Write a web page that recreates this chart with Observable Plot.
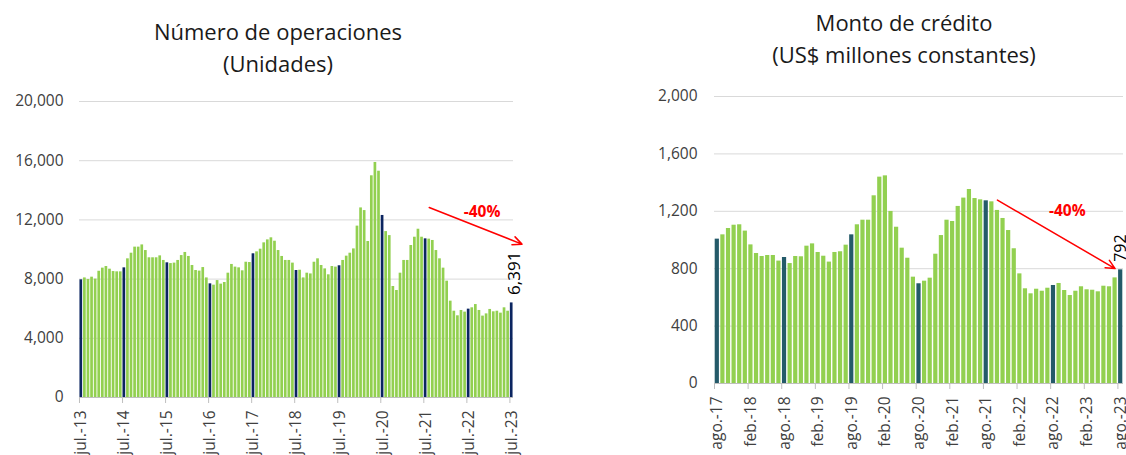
<!DOCTYPE html>
<html><head><meta charset="utf-8">
<script src="https://cdn.jsdelivr.net/npm/d3@7"></script>
<script src="https://cdn.jsdelivr.net/npm/@observablehq/plot@0.6"></script>
<style>
html,body{margin:0;padding:0;background:#fff;}
#wrap{position:relative;width:1126px;height:455px;overflow:hidden;font-family:"Open Sans",sans-serif;background:#fff;}
.title{position:absolute;text-align:center;font-size:22px;line-height:32px;color:#1a1a1a;white-space:nowrap;}
#lt{left:78px;width:400px;top:15px;}
#rt{left:704px;width:400px;top:6px;}
#lc{position:absolute;left:0;top:85px;}
#rc{position:absolute;left:640px;top:80px;}
</style></head><body>
<div id="wrap">
<div class="title" id="lt">Número de operaciones<br>(Unidades)</div>
<div class="title" id="rt">Monto de crédito<br>(US$ millones constantes)</div>
<div id="lc"></div><div id="rc"></div>
</div>
<script>
// ---- Data: Número de operaciones (monthly, jul-13 .. jul-23) ----
const opsValues = [
  7950, 8080, 7970, 8130, 8000, 8530, 8740, 8850, 8670, 8510, 8490, 8490,
  8760, 9370, 9750, 10160, 10160, 10310, 9930, 9440, 9440, 9440, 9570, 9260,
  9100, 9050, 9080, 9260, 9590, 9800, 9530, 8920, 8580, 8540, 8780, 8080,
  7680, 7590, 7900, 7660, 7770, 8400, 8990, 8810, 8760, 8560, 9140, 9120,
  9710, 9840, 10020, 10450, 10650, 10790, 10560, 9930, 9530, 9260, 9260, 9080,
  8580, 8600, 8080, 8400, 8350, 9140, 9370, 8920, 8690, 8290, 8850, 8810,
  8900, 9260, 9550, 9750, 10040, 11580, 12810, 12630, 10540, 14980, 15880, 15290,
  12300, 11210, 10940, 7500, 7230, 8400, 9260, 9260, 10270, 10830, 11370, 10830,
  10720, 10700, 10610, 9930, 9370, 8740, 7860, 6510, 5830, 5520, 5880, 5770,
  5970, 6060, 6280, 5880, 5500, 5650, 5950, 5790, 5830, 5700, 6060, 5830,
  6391
];
const opsTickLabels = ["jul.-13","jul.-14","jul.-15","jul.-16","jul.-17","jul.-18","jul.-19","jul.-20","jul.-21","jul.-22","jul.-23"];
const opsYTicks = [0, 4000, 8000, 12000, 16000, 20000];

// ---- Data: Monto de crédito (monthly, ago-17 .. ago-23) ----
const montoValues = [
  1006, 1036, 1080, 1103, 1106, 1062, 966, 906, 885, 892, 892, 853,
  878, 836, 885, 883, 957, 973, 913, 887, 846, 913, 918, 964,
  1036, 1106, 1138, 1138, 1308, 1438, 1447, 1199, 1089, 943, 873, 741,
  695, 713, 734, 901, 1031, 1138, 1129, 1234, 1292, 1352, 1289, 1280,
  1273, 1266, 1206, 1150, 1066, 939, 764, 660, 625, 657, 643, 664,
  683, 697, 648, 613, 643, 674, 653, 650, 639, 678, 674, 736,
  792
];
const montoTickLabels = ["ago.-17","feb.-18","ago.-18","feb.-19","ago.-19","feb.-20","ago.-20","feb.-21","ago.-21","feb.-22","ago.-22","feb.-23","ago.-23"];
const montoYTicks = [0, 400, 800, 1200, 1600, 2000];

// ---- Annotations (data space) ----
const opsArrow = [{x1: "2021-08", y1: 12840, x2: "2023-07", y2: 10636}];
const opsPct = [{x: "2022-11", y: 12500, text: "-40%"}];
const opsLast = [{x: "2023-07", y: 6391, text: "6,391"}];
const montoArrow = [{x1: "2021-10", y1: 1278, x2: "2023-07", y2: 801}];
const montoPct = [{x: "2022-11", y: 1199, text: "-40%"}];
const montoLast = [{x: "2023-08", y: 792, text: "792"}];

const fmtKey = d3.utcFormat("%Y-%m");
const opsMonths = d3.utcMonth.range(new Date(Date.UTC(2013, 6, 1)), new Date(Date.UTC(2023, 7, 1))).map(fmtKey);
const montoMonths = d3.utcMonth.range(new Date(Date.UTC(2017, 7, 1)), new Date(Date.UTC(2023, 8, 1))).map(fmtKey);

const opsData = opsMonths.map((k, i) => ({key: k, v: opsValues[i], hi: i % 12 === 0}));
const montoData = montoMonths.map((k, i) => ({key: k, v: montoValues[i], hi: i % 12 === 0}));

const opsTickKeys = opsMonths.filter((k, i) => i % 12 === 0);
const opsLabelOf = new Map(opsTickKeys.map((k, i) => [k, opsTickLabels[i]]));
const montoTickKeys = montoMonths.filter((k, i) => i % 6 === 0);
const montoLabelOf = new Map(montoTickKeys.map((k, i) => [k, montoTickLabels[i]]));

const GREEN = "#92d050";
const baseStyle = {fontFamily: "'Open Sans', sans-serif", fontSize: "15.5px", color: "#404040", background: "transparent", overflow: "visible"};

function chart({data, months, yTicks, yMax, tickKeys, labelOf, dark, arrow, pct, last, lastSize, dims}) {
  return Plot.plot({
    ...dims,
    style: baseStyle,
    x: {type: "band", domain: months, paddingInner: 0.25, paddingOuter: 0.125, axis: null},
    y: {domain: [0, yMax], axis: null},
    marks: [
      Plot.ruleY(yTicks.filter(d => d > 0), {stroke: "#d9d9d9", strokeWidth: 1}),
      Plot.barY(data, {x: "key", y: "v", fill: d => d.hi ? dark : GREEN}),
      Plot.ruleY([0], {stroke: "#bfbfbf"}),
      Plot.axisY({ticks: yTicks, tickSize: 0, tickPadding: dims.yPad, tickFormat: d3.format(","), label: null, fill: "#404040"}),
      Plot.axisX({ticks: tickKeys, tickSize: 6, tickFormat: () => "", label: null, stroke: "#bfbfbf", dx: -dims.half}),
      Plot.axisX({ticks: tickKeys, tickSize: 0, tickPadding: 13, tickRotate: -90, tickFormat: k => labelOf.get(k), label: null, fill: "#404040", fontSize: 15.5}),
      Plot.arrow(arrow, {x1: "x1", y1: "y1", x2: "x2", y2: "y2", stroke: "#ff0000", strokeWidth: 1.5, headLength: 10, headAngle: 50, insetEnd: dims.ext}),
      Plot.text(pct, {x: "x", y: "y", text: "text", fill: "#ff0000", fontWeight: "bold", fontSize: 15.5, dx: dims.pctDx}),
      Plot.text(last, {x: "x", y: "y", text: "text", rotate: -90, textAnchor: "start", fill: "#000", fontSize: lastSize, dy: -8, dx: dims.lastDx})
    ]
  });
}

document.getElementById("lc").append(chart({
  data: opsData, months: opsMonths, yTicks: opsYTicks, yMax: 20000,
  tickKeys: opsTickKeys, labelOf: opsLabelOf, dark: "#0b2560",
  arrow: opsArrow, pct: opsPct, last: opsLast, lastSize: 17,
  dims: {width: 540, height: 370, marginTop: 16, marginBottom: 58, marginLeft: 79, marginRight: 27, yPad: 16, half: 1.8, ext: -11, pctDx: -1, lastDx: 3}
}));

document.getElementById("rc").append(chart({
  data: montoData, months: montoMonths, yTicks: montoYTicks, yMax: 2000,
  tickKeys: montoTickKeys, labelOf: montoLabelOf, dark: "#245a69",
  arrow: montoArrow, pct: montoPct, last: montoLast, lastSize: 16,
  dims: {width: 486, height: 375, marginTop: 16, marginBottom: 72, marginLeft: 74, marginRight: 3, yPad: 17, half: 2.8, ext: 0, pctDx: -3, lastDx: 0}
}));
</script>
</body></html>
